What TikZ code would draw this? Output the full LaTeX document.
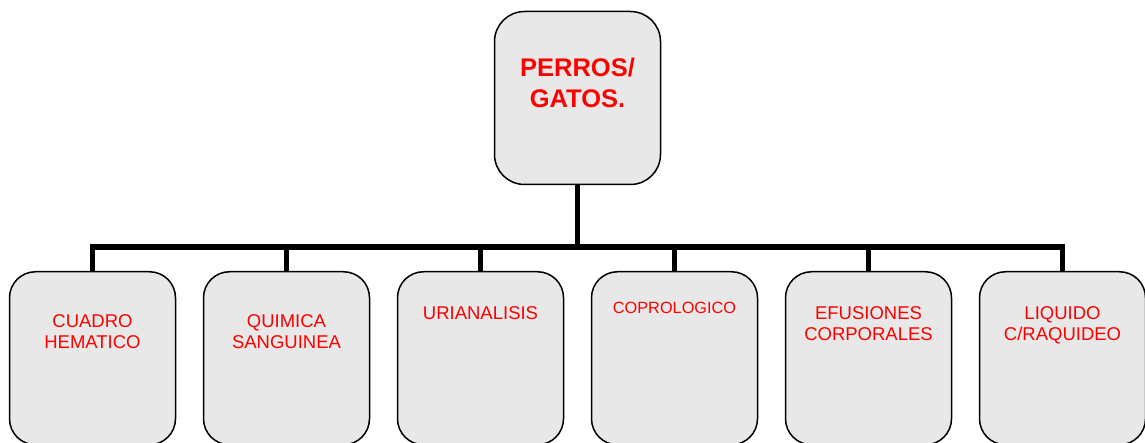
\documentclass[tikz,border=0pt]{standalone}
\usepackage{fontspec}
\setmainfont{Liberation Sans}
\usetikzlibrary{positioning}
\definecolor{boxgray}{RGB}{232,232,232}
\begin{document}
\begin{tikzpicture}[x=1pt, y=1pt, node distance = 26.5pt,
    box/.style={rectangle, draw, line width=1.5pt, fill=boxgray,
      minimum width=166pt, minimum height=173pt, rounded corners=26pt},
    lbl/.style={text=red, align=center, inner sep=0pt, anchor=north,
      font=\fontsize{18.5}{21}\selectfont},
    conn/.style={line width=5.5pt}]
	\useasboundingbox (0,0) rectangle (1145,-443);
	\clip (0,0) rectangle (1145,-443);
	% Place nodes
	\node [box, rounded corners=30pt] (perros) at (577.5,-98) {};
	\node [box, anchor=north] (cuadro) at (92.5,-271) {};
	\node [box, right=of cuadro] (quimica) {};
	\node [box, right=of quimica] (urianalisis) {};
	\node [box, right=of urianalisis] (coprologico) {};
	\node [box, right=of coprologico] (efusiones) {};
	\node [box, right=of efusiones] (liquido) {};
	% Connectors
	\coordinate [below=62pt of perros.south] (bus);
	\foreach \n in {cuadro,quimica,urianalisis,coprologico,efusiones,liquido}
	  \draw [conn] (perros.south) -- (bus) -| (\n.north);
	% Texts
	\node [lbl, font=\bfseries\fontsize{25.5}{31}\selectfont, below=47pt of perros.north] (perrostxt) {PERROS/\\GATOS.};
	\node [lbl, below=43pt of cuadro.north] (cuadrotxt) {CUADRO\\HEMATICO};
	\node [lbl, below=43pt of quimica.north] (quimicatxt) {QUIMICA\\SANGUINEA};
	\node [lbl, below=35pt of urianalisis.north] (urianalisistxt) {URIANALISIS};
	\node [lbl, font=\fontsize{16.3}{19}\selectfont, below=31pt of coprologico.north] (coprologicotxt) {COPROLOGICO};
	\node [lbl, below=35pt of efusiones.north] (efusionestxt) {EFUSIONES\\CORPORALES};
	\node [lbl, below=35pt of liquido.north] (liquidotxt) {LIQUIDO\\C/RAQUIDEO};
\end{tikzpicture}
\end{document}
